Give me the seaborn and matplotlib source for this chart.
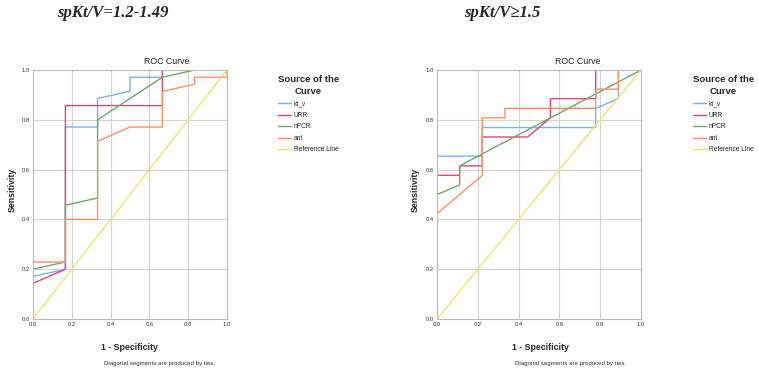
import numpy as np
import pandas as pd
import seaborn as sns
from matplotlib import pyplot as plt

l_ktv_x = [0, 0, 0.167, 0.167, 0.333, 0.333, 0.5, 0.5, 0.667, 0.667, 1.0]
l_ktv_y = [0, 0.171, 0.2, 0.771, 0.771, 0.886, 0.914, 0.971, 0.971, 1.0, 1.0]
l_urr_x = [0, 0, 0.167, 0.167, 0.667, 0.667, 1.0]
l_urr_y = [0, 0.143, 0.2, 0.857, 0.857, 1.0, 1.0]
l_npcr_x = [0, 0, 0.167, 0.167, 0.333, 0.333, 0.667, 0.833, 1.0]
l_npcr_y = [0, 0.2, 0.229, 0.457, 0.486, 0.8, 0.971, 1.0, 1.0]
l_ant_x = [0, 0, 0.167, 0.167, 0.333, 0.333, 0.5, 0.667, 0.667, 0.833, 0.833, 1.0, 1.0]
l_ant_y = [0, 0.229, 0.229, 0.4, 0.4, 0.714, 0.771, 0.771, 0.914, 0.943, 0.971, 0.971, 1.0]

# spKt/V >= 1.5
r_ktv_x = [0, 0, 0.222, 0.222, 0.778, 0.778, 0.889, 0.889, 1.0]
r_ktv_y = [0, 0.654, 0.654, 0.769, 0.769, 0.846, 0.885, 1.0, 1.0]
r_urr_x = [0, 0, 0.111, 0.111, 0.222, 0.222, 0.444, 0.556, 0.556, 0.778, 0.778, 1.0]
r_urr_y = [0, 0.577, 0.577, 0.615, 0.615, 0.731, 0.731, 0.808, 0.885, 0.885, 1.0, 1.0]
r_npcr_x = [0, 0, 0.111, 0.111, 1.0]
r_npcr_y = [0, 0.5, 0.538, 0.615, 1.0]
r_ant_x = [0, 0, 0.111, 0.222, 0.222, 0.333, 0.333, 0.778, 0.778, 0.889, 0.889, 1.0]
r_ant_y = [0, 0.423, 0.5, 0.577, 0.808, 0.808, 0.846, 0.846, 0.923, 0.923, 1.0, 1.0]

ref_x = [0, 1]
ref_y = [0, 1]

curve_names = ['kt_v', 'URR', 'nPCR', 'ant', 'Reference Line']
colors = ['#7fb0e8', '#e0457b', '#6aaa6a', '#f7936a', '#f0e272']
titles = ['spKt/V=1.2-1.49', 'spKt/V\u22651.5']


def make_df(curves):
    rows = []
    for name, (xs, ys) in zip(curve_names, curves):
        for i, (x, y) in enumerate(zip(xs, ys)):
            rows.append({'fpr': x, 'tpr': y, 'curve': name, 'order': i})
    return pd.DataFrame(rows)


left = make_df([(l_ktv_x, l_ktv_y), (l_urr_x, l_urr_y), (l_npcr_x, l_npcr_y),
                (l_ant_x, l_ant_y), (ref_x, ref_y)])
right = make_df([(r_ktv_x, r_ktv_y), (r_urr_x, r_urr_y), (r_npcr_x, r_npcr_y),
                 (r_ant_x, r_ant_y), (ref_x, ref_y)])

sns.set_style('white')
plt.rcParams['font.family'] = ['Liberation Sans', 'DejaVu Sans']

W, H = 759, 375
fig = plt.figure(figsize=(W / 100, H / 100), dpi=100)

# pixel boxes: (left, right) x, top/bottom y
boxes = [(33, 227), (437, 641)]
top, bottom = 70, 319
title_x = [57, 464]
roc_x = [167, 578]
ylab_x = [12, 415]
xlab_x = [101, 512]
leg_x = [275, 690]

for k, (df, (x0, x1)) in enumerate(zip([left, right], boxes)):
    ax = fig.add_axes([x0 / W, 1 - bottom / H, (x1 - x0) / W, (bottom - top) / H])
    sns.lineplot(data=df, x='fpr', y='tpr', hue='curve', hue_order=curve_names,
                 palette=colors, sort=False, estimator=None, units='curve',
                 linewidth=1.0, ax=ax)
    ax.set_xlim(0, 1)
    ax.set_ylim(0, 1)
    ticks = np.arange(0, 1.01, 0.2)
    ax.set_xticks(ticks)
    ax.set_yticks(ticks)
    ax.set_xticklabels(['%.1f' % t for t in ticks])
    ax.set_yticklabels(['%.1f' % t for t in ticks])
    ax.tick_params(labelsize=4.2, length=0, pad=2, colors='#333333')
    ax.grid(True, color='#d4d4d4', linewidth=0.8)
    ax.set_axisbelow(True)
    for s in ax.spines.values():
        s.set_color('#bbbbbb')
        s.set_linewidth(0.8)
    ax.set_xlabel('')
    ax.set_ylabel('')

    handles, labels = ax.get_legend_handles_labels()
    ax.get_legend().remove()
    leg = fig.legend(handles, labels, loc='upper left',
                     bbox_to_anchor=(leg_x[k] / W, 1 - 72 / H),
                     title='Source of the\nCurve', frameon=False,
                     fontsize=4.8, handlelength=2.0, handletextpad=0.4,
                     labelspacing=0.68, borderaxespad=0)
    leg.get_title().set_fontsize(6.8)
    leg.get_title().set_fontweight('bold')
    leg.get_title().set_multialignment('center')
    leg.get_title().set_linespacing(1.45)
    for ln in leg.get_lines():
        ln.set_linewidth(1.0)

    fig.text(title_x[k] / W, 1 - 13 / H, titles[k], fontsize=12,
             family='Liberation Serif', style='italic', weight='bold',
             ha='left', va='center')
    fig.text(roc_x[k] / W, 1 - 61 / H, 'ROC Curve', fontsize=6.3,
             ha='center', va='center', color='#222222')
    fig.text(ylab_x[k] / W, 1 - 190 / H, 'Sensitivity', fontsize=6.3,
             weight='bold', rotation=90, ha='center', va='center')
    fig.text(xlab_x[k] / W, 1 - 347 / H, '1 - Specificity', fontsize=6.3,
             weight='bold', ha='left', va='center')
    fig.text((xlab_x[k] + 3) / W, 1 - 363 / H,
             'Diagonal segments are produced by ties.', fontsize=4.4,
             ha='left', va='center', color='#333333')

fig.savefig('out.png', dpi=100)
